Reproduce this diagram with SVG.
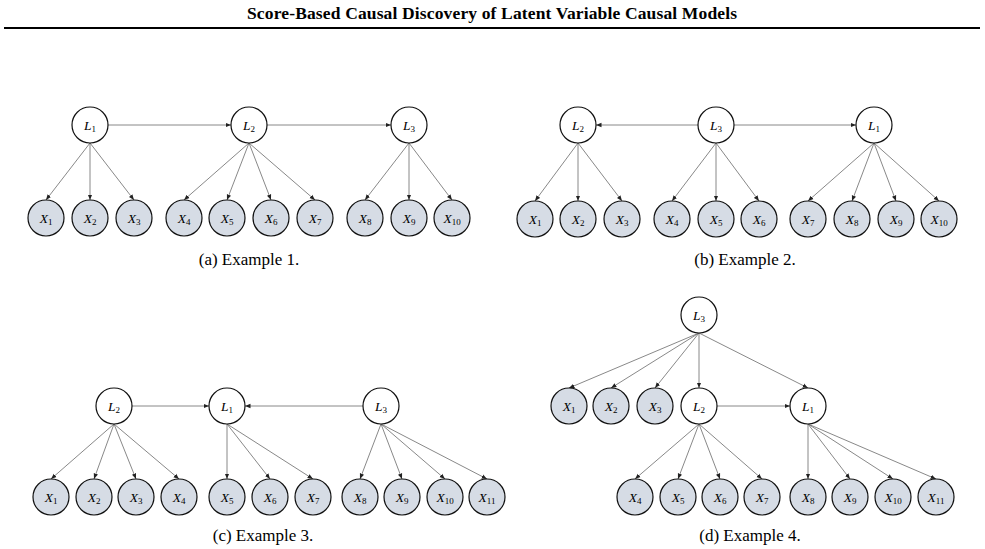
<svg xmlns="http://www.w3.org/2000/svg" width="985" height="549" viewBox="0 0 985 549">
<defs>
<marker id="arr" viewBox="0 0 10 10" refX="10" refY="5" markerWidth="5.5" markerHeight="5.5" markerUnits="userSpaceOnUse" orient="auto"><path d="M0,1 L10,5 L0,9 z" fill="#222"/></marker>
<style>
.e{stroke:#6a6a6a;stroke-width:0.8;fill:none;marker-end:url(#arr)}
.L circle{fill:#fff;stroke:#111;stroke-width:1.2}
.X circle{fill:#d6dce5;stroke:#111;stroke-width:1.2}
.lb{font-family:"Liberation Serif","DejaVu Serif",serif;font-size:13.5px;font-style:italic;text-anchor:middle;fill:#000}
.sb{font-size:9px;font-style:normal}
.cap{font-family:"Liberation Serif","Times New Roman",serif;font-size:17px;text-anchor:middle;fill:#000}
.title{font-family:"Liberation Serif","Times New Roman",serif;font-size:17.5px;font-weight:bold;text-anchor:middle;fill:#000}
</style>
</defs>
<rect width="985" height="549" fill="#fff"/>
<text class="title" x="492" y="19" textLength="490" lengthAdjust="spacing">Score-Based Causal Discovery of Latent Variable Causal Models</text>
<line x1="4" y1="28" x2="980" y2="28" stroke="#000" stroke-width="1.8"/>

<!-- (a) -->
<g id="connectors-a">
<line class="e" x1="108" y1="125" x2="231" y2="125"/>
<line class="e" x1="267" y1="125" x2="391" y2="125"/>
<line class="e" x1="90" y1="143" x2="46" y2="200"/>
<line class="e" x1="90" y1="143" x2="90" y2="200"/>
<line class="e" x1="90" y1="143" x2="134" y2="200"/>
<line class="e" x1="249" y1="143" x2="184" y2="200"/>
<line class="e" x1="249" y1="143" x2="227" y2="200"/>
<line class="e" x1="249" y1="143" x2="271" y2="200"/>
<line class="e" x1="249" y1="143" x2="315" y2="200"/>
<line class="e" x1="409" y1="143" x2="365" y2="200"/>
<line class="e" x1="409" y1="143" x2="409" y2="200"/>
<line class="e" x1="409" y1="143" x2="452" y2="200"/>
</g>
<g id="a-L1" class="L"><circle cx="90" cy="125" r="18"/><text class="lb" x="90" y="129.5">L<tspan class="sb" dy="2.5">1</tspan></text></g>
<g id="a-L2" class="L"><circle cx="249" cy="125" r="18"/><text class="lb" x="249" y="129.5">L<tspan class="sb" dy="2.5">2</tspan></text></g>
<g id="a-L3" class="L"><circle cx="409" cy="125" r="18"/><text class="lb" x="409" y="129.5">L<tspan class="sb" dy="2.5">3</tspan></text></g>
<g id="a-X1" class="X"><circle cx="46" cy="218" r="18"/><text class="lb" x="46" y="222.5">X<tspan class="sb" dy="2.5">1</tspan></text></g>
<g id="a-X2" class="X"><circle cx="90" cy="218" r="18"/><text class="lb" x="90" y="222.5">X<tspan class="sb" dy="2.5">2</tspan></text></g>
<g id="a-X3" class="X"><circle cx="134" cy="218" r="18"/><text class="lb" x="134" y="222.5">X<tspan class="sb" dy="2.5">3</tspan></text></g>
<g id="a-X4" class="X"><circle cx="184" cy="218" r="18"/><text class="lb" x="184" y="222.5">X<tspan class="sb" dy="2.5">4</tspan></text></g>
<g id="a-X5" class="X"><circle cx="227" cy="218" r="18"/><text class="lb" x="227" y="222.5">X<tspan class="sb" dy="2.5">5</tspan></text></g>
<g id="a-X6" class="X"><circle cx="271" cy="218" r="18"/><text class="lb" x="271" y="222.5">X<tspan class="sb" dy="2.5">6</tspan></text></g>
<g id="a-X7" class="X"><circle cx="315" cy="218" r="18"/><text class="lb" x="315" y="222.5">X<tspan class="sb" dy="2.5">7</tspan></text></g>
<g id="a-X8" class="X"><circle cx="365" cy="218" r="18"/><text class="lb" x="365" y="222.5">X<tspan class="sb" dy="2.5">8</tspan></text></g>
<g id="a-X9" class="X"><circle cx="409" cy="218" r="18"/><text class="lb" x="409" y="222.5">X<tspan class="sb" dy="2.5">9</tspan></text></g>
<g id="a-X10" class="X"><circle cx="452" cy="218" r="18"/><text class="lb" x="452" y="222.5">X<tspan class="sb" dy="2.5">10</tspan></text></g>
<text class="cap" x="249" y="265">(a) Example 1.</text>

<!-- (b) -->
<g id="connectors-b">
<line class="e" x1="698" y1="125" x2="596" y2="125"/>
<line class="e" x1="734" y1="125" x2="856" y2="125"/>
<line class="e" x1="578" y1="143" x2="535" y2="201"/>
<line class="e" x1="578" y1="143" x2="578" y2="201"/>
<line class="e" x1="578" y1="143" x2="622" y2="201"/>
<line class="e" x1="716" y1="143" x2="672" y2="201"/>
<line class="e" x1="716" y1="143" x2="716" y2="201"/>
<line class="e" x1="716" y1="143" x2="759" y2="201"/>
<line class="e" x1="874" y1="143" x2="808" y2="201"/>
<line class="e" x1="874" y1="143" x2="852" y2="201"/>
<line class="e" x1="874" y1="143" x2="896" y2="201"/>
<line class="e" x1="874" y1="143" x2="939" y2="201"/>
</g>
<g id="b-L2" class="L"><circle cx="578" cy="125" r="18"/><text class="lb" x="578" y="129.5">L<tspan class="sb" dy="2.5">2</tspan></text></g>
<g id="b-L3" class="L"><circle cx="716" cy="125" r="18"/><text class="lb" x="716" y="129.5">L<tspan class="sb" dy="2.5">3</tspan></text></g>
<g id="b-L1" class="L"><circle cx="874" cy="125" r="18"/><text class="lb" x="874" y="129.5">L<tspan class="sb" dy="2.5">1</tspan></text></g>
<g id="b-X1" class="X"><circle cx="535" cy="219" r="18"/><text class="lb" x="535" y="223.5">X<tspan class="sb" dy="2.5">1</tspan></text></g>
<g id="b-X2" class="X"><circle cx="578" cy="219" r="18"/><text class="lb" x="578" y="223.5">X<tspan class="sb" dy="2.5">2</tspan></text></g>
<g id="b-X3" class="X"><circle cx="622" cy="219" r="18"/><text class="lb" x="622" y="223.5">X<tspan class="sb" dy="2.5">3</tspan></text></g>
<g id="b-X4" class="X"><circle cx="672" cy="219" r="18"/><text class="lb" x="672" y="223.5">X<tspan class="sb" dy="2.5">4</tspan></text></g>
<g id="b-X5" class="X"><circle cx="716" cy="219" r="18"/><text class="lb" x="716" y="223.5">X<tspan class="sb" dy="2.5">5</tspan></text></g>
<g id="b-X6" class="X"><circle cx="759" cy="219" r="18"/><text class="lb" x="759" y="223.5">X<tspan class="sb" dy="2.5">6</tspan></text></g>
<g id="b-X7" class="X"><circle cx="808" cy="219" r="18"/><text class="lb" x="808" y="223.5">X<tspan class="sb" dy="2.5">7</tspan></text></g>
<g id="b-X8" class="X"><circle cx="852" cy="219" r="18"/><text class="lb" x="852" y="223.5">X<tspan class="sb" dy="2.5">8</tspan></text></g>
<g id="b-X9" class="X"><circle cx="896" cy="219" r="18"/><text class="lb" x="896" y="223.5">X<tspan class="sb" dy="2.5">9</tspan></text></g>
<g id="b-X10" class="X"><circle cx="939" cy="219" r="18"/><text class="lb" x="939" y="223.5">X<tspan class="sb" dy="2.5">10</tspan></text></g>
<text class="cap" x="745" y="265">(b) Example 2.</text>

<!-- (c) -->
<g id="connectors-c">
<line class="e" x1="132" y1="406" x2="209" y2="406"/>
<line class="e" x1="363" y1="406" x2="245" y2="406"/>
<line class="e" x1="114" y1="424" x2="51" y2="479"/>
<line class="e" x1="114" y1="424" x2="94" y2="479"/>
<line class="e" x1="114" y1="424" x2="136" y2="479"/>
<line class="e" x1="114" y1="424" x2="179" y2="479"/>
<line class="e" x1="227" y1="424" x2="227" y2="479"/>
<line class="e" x1="227" y1="424" x2="270" y2="479"/>
<line class="e" x1="227" y1="424" x2="313" y2="479"/>
<line class="e" x1="381" y1="424" x2="360" y2="479"/>
<line class="e" x1="381" y1="424" x2="402" y2="479"/>
<line class="e" x1="381" y1="424" x2="445" y2="479"/>
<line class="e" x1="381" y1="424" x2="487" y2="479"/>
</g>
<g id="c-L2" class="L"><circle cx="114" cy="406" r="18"/><text class="lb" x="114" y="410.5">L<tspan class="sb" dy="2.5">2</tspan></text></g>
<g id="c-L1" class="L"><circle cx="227" cy="406" r="18"/><text class="lb" x="227" y="410.5">L<tspan class="sb" dy="2.5">1</tspan></text></g>
<g id="c-L3" class="L"><circle cx="381" cy="406" r="18"/><text class="lb" x="381" y="410.5">L<tspan class="sb" dy="2.5">3</tspan></text></g>
<g id="c-X1" class="X"><circle cx="51" cy="497" r="18"/><text class="lb" x="51" y="501.5">X<tspan class="sb" dy="2.5">1</tspan></text></g>
<g id="c-X2" class="X"><circle cx="94" cy="497" r="18"/><text class="lb" x="94" y="501.5">X<tspan class="sb" dy="2.5">2</tspan></text></g>
<g id="c-X3" class="X"><circle cx="136" cy="497" r="18"/><text class="lb" x="136" y="501.5">X<tspan class="sb" dy="2.5">3</tspan></text></g>
<g id="c-X4" class="X"><circle cx="179" cy="497" r="18"/><text class="lb" x="179" y="501.5">X<tspan class="sb" dy="2.5">4</tspan></text></g>
<g id="c-X5" class="X"><circle cx="227" cy="497" r="18"/><text class="lb" x="227" y="501.5">X<tspan class="sb" dy="2.5">5</tspan></text></g>
<g id="c-X6" class="X"><circle cx="270" cy="497" r="18"/><text class="lb" x="270" y="501.5">X<tspan class="sb" dy="2.5">6</tspan></text></g>
<g id="c-X7" class="X"><circle cx="313" cy="497" r="18"/><text class="lb" x="313" y="501.5">X<tspan class="sb" dy="2.5">7</tspan></text></g>
<g id="c-X8" class="X"><circle cx="360" cy="497" r="18"/><text class="lb" x="360" y="501.5">X<tspan class="sb" dy="2.5">8</tspan></text></g>
<g id="c-X9" class="X"><circle cx="402" cy="497" r="18"/><text class="lb" x="402" y="501.5">X<tspan class="sb" dy="2.5">9</tspan></text></g>
<g id="c-X10" class="X"><circle cx="445" cy="497" r="18"/><text class="lb" x="445" y="501.5">X<tspan class="sb" dy="2.5">10</tspan></text></g>
<g id="c-X11" class="X"><circle cx="487" cy="497" r="18"/><text class="lb" x="487" y="501.5">X<tspan class="sb" dy="2.5">11</tspan></text></g>
<text class="cap" x="263" y="541">(c) Example 3.</text>

<!-- (d) -->
<g id="connectors-d">
<line class="e" x1="699" y1="333" x2="569" y2="388"/>
<line class="e" x1="699" y1="333" x2="611" y2="388"/>
<line class="e" x1="699" y1="333" x2="655" y2="388"/>
<line class="e" x1="699" y1="333" x2="699" y2="388"/>
<line class="e" x1="699" y1="333" x2="808" y2="388"/>
<line class="e" x1="717" y1="406" x2="790" y2="406"/>
<line class="e" x1="699" y1="424" x2="635" y2="479"/>
<line class="e" x1="699" y1="424" x2="678" y2="479"/>
<line class="e" x1="699" y1="424" x2="720" y2="479"/>
<line class="e" x1="699" y1="424" x2="762" y2="479"/>
<line class="e" x1="808" y1="424" x2="808" y2="479"/>
<line class="e" x1="808" y1="424" x2="850" y2="479"/>
<line class="e" x1="808" y1="424" x2="893" y2="479"/>
<line class="e" x1="808" y1="424" x2="936" y2="479"/>
</g>
<g id="d-L3" class="L"><circle cx="699" cy="315" r="18"/><text class="lb" x="699" y="319.5">L<tspan class="sb" dy="2.5">3</tspan></text></g>
<g id="d-L2" class="L"><circle cx="699" cy="406" r="18"/><text class="lb" x="699" y="410.5">L<tspan class="sb" dy="2.5">2</tspan></text></g>
<g id="d-L1" class="L"><circle cx="808" cy="406" r="18"/><text class="lb" x="808" y="410.5">L<tspan class="sb" dy="2.5">1</tspan></text></g>
<g id="d-X1" class="X"><circle cx="569" cy="406" r="18"/><text class="lb" x="569" y="410.5">X<tspan class="sb" dy="2.5">1</tspan></text></g>
<g id="d-X2" class="X"><circle cx="611" cy="406" r="18"/><text class="lb" x="611" y="410.5">X<tspan class="sb" dy="2.5">2</tspan></text></g>
<g id="d-X3" class="X"><circle cx="655" cy="406" r="18"/><text class="lb" x="655" y="410.5">X<tspan class="sb" dy="2.5">3</tspan></text></g>
<g id="d-X4" class="X"><circle cx="635" cy="497" r="18"/><text class="lb" x="635" y="501.5">X<tspan class="sb" dy="2.5">4</tspan></text></g>
<g id="d-X5" class="X"><circle cx="678" cy="497" r="18"/><text class="lb" x="678" y="501.5">X<tspan class="sb" dy="2.5">5</tspan></text></g>
<g id="d-X6" class="X"><circle cx="720" cy="497" r="18"/><text class="lb" x="720" y="501.5">X<tspan class="sb" dy="2.5">6</tspan></text></g>
<g id="d-X7" class="X"><circle cx="762" cy="497" r="18"/><text class="lb" x="762" y="501.5">X<tspan class="sb" dy="2.5">7</tspan></text></g>
<g id="d-X8" class="X"><circle cx="808" cy="497" r="18"/><text class="lb" x="808" y="501.5">X<tspan class="sb" dy="2.5">8</tspan></text></g>
<g id="d-X9" class="X"><circle cx="850" cy="497" r="18"/><text class="lb" x="850" y="501.5">X<tspan class="sb" dy="2.5">9</tspan></text></g>
<g id="d-X10" class="X"><circle cx="893" cy="497" r="18"/><text class="lb" x="893" y="501.5">X<tspan class="sb" dy="2.5">10</tspan></text></g>
<g id="d-X11" class="X"><circle cx="936" cy="497" r="18"/><text class="lb" x="936" y="501.5">X<tspan class="sb" dy="2.5">11</tspan></text></g>
<text class="cap" x="750" y="541">(d) Example 4.</text>
</svg>
